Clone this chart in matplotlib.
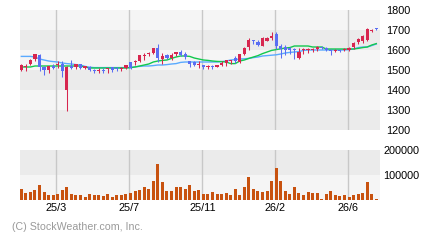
import matplotlib.pyplot as plt
import numpy as np

plt.rcParams['font.family'] = ['Liberation Sans', 'DejaVu Sans']

# weekly candles (price)
opens = [1500, 1517, 1530, 1555, 1575, 1515, 1500, 1520, 1525, 1530,
         1400, 1520, 1515, 1530, 1510, 1515, 1500, 1495, 1500, 1505,
         1515, 1510, 1505, 1510, 1540, 1540, 1545, 1570, 1580, 1585,
         1610, 1555, 1575, 1560, 1580, 1590, 1580, 1545, 1540, 1525,
         1525, 1515, 1520, 1515, 1525, 1535, 1545, 1560, 1540, 1580,
         1615, 1650, 1640, 1620, 1645, 1660, 1682, 1620, 1615, 1610,
         1605, 1560, 1600, 1600, 1602, 1605, 1615, 1610, 1600, 1595,
         1598, 1600, 1600, 1615, 1640, 1645, 1650, 1695, 1710]
highs = [1530, 1530, 1555, 1580, 1580, 1520, 1520, 1530, 1545, 1545,
         1520, 1550, 1530, 1530, 1520, 1520, 1505, 1510, 1510, 1510,
         1515, 1515, 1515, 1525, 1540, 1550, 1575, 1585, 1590, 1610,
         1630, 1585, 1580, 1585, 1590, 1600, 1590, 1545, 1545, 1545,
         1525, 1525, 1525, 1525, 1545, 1550, 1550, 1570, 1580, 1615,
         1660, 1650, 1650, 1665, 1665, 1690, 1690, 1630, 1625, 1615,
         1610, 1610, 1610, 1610, 1610, 1620, 1620, 1615, 1605, 1605,
         1600, 1610, 1615, 1640, 1660, 1675, 1710, 1705, 1710]
lows = [1495, 1495, 1525, 1545, 1495, 1475, 1485, 1505, 1510, 1465,
        1295, 1505, 1505, 1505, 1505, 1495, 1485, 1485, 1485, 1485,
        1490, 1495, 1495, 1505, 1505, 1525, 1540, 1550, 1570, 1580,
        1540, 1530, 1555, 1550, 1570, 1570, 1555, 1515, 1520, 1510,
        1505, 1505, 1505, 1515, 1520, 1520, 1530, 1535, 1535, 1575,
        1600, 1630, 1620, 1620, 1645, 1650, 1605, 1560, 1575, 1580,
        1555, 1555, 1580, 1585, 1590, 1595, 1605, 1595, 1575, 1590,
        1588, 1595, 1595, 1605, 1630, 1635, 1645, 1690, 1700]
closes = [1525, 1522, 1550, 1580, 1515, 1500, 1520, 1510, 1530, 1495,
          1515, 1510, 1530, 1510, 1520, 1500, 1495, 1500, 1495, 1510,
          1500, 1505, 1510, 1525, 1510, 1545, 1575, 1575, 1585, 1610,
          1560, 1570, 1560, 1575, 1590, 1575, 1565, 1530, 1525, 1530,
          1515, 1520, 1515, 1525, 1535, 1550, 1550, 1545, 1580, 1610,
          1650, 1645, 1625, 1660, 1660, 1670, 1618, 1605, 1600, 1600,
          1600, 1590, 1605, 1605, 1605, 1615, 1610, 1600, 1595, 1600,
          1593, 1605, 1610, 1635, 1655, 1670, 1705, 1702, 1705]

# moving averages
ma_short = [1515, 1515, 1515, 1520, 1520, 1520, 1520, 1520, 1520, 1520,
            1520, 1520, 1520, 1520, 1515, 1510, 1510, 1510, 1510, 1510,
            1510, 1510, 1510, 1510, 1512, 1515, 1520, 1525, 1530, 1540,
            1545, 1548, 1550, 1558, 1565, 1570, 1570, 1568, 1560, 1555,
            1550, 1548, 1545, 1543, 1542, 1540, 1532, 1532, 1545, 1550,
            1558, 1565, 1572, 1582, 1590, 1598, 1602, 1606, 1610, 1612,
            1620, 1620, 1620, 1620, 1615, 1615, 1615, 1605, 1605, 1605,
            1605, 1605, 1605, 1605, 1608, 1612, 1615, 1625, 1632]
ma_long = [1568, 1568, 1568, 1565, 1555, 1550, 1545, 1542, 1540, 1535,
           1532, 1530, 1527, 1525, 1518, 1514, 1512, 1512, 1512, 1512,
           1512, 1512, 1512, 1512, 1512, 1516, 1518, 1520, 1520, 1522,
           1525, 1525, 1527, 1530, 1532, 1538, 1540, 1540, 1540, 1540,
           1540, 1540, 1540, 1540, 1542, 1545, 1550, 1552, 1555, 1556,
           1558, 1562, 1565, 1570, 1572, 1574, 1576, 1580, 1585, 1588,
           1590, 1592, 1598, 1600, 1600, 1600, 1600, 1600, 1600, 1600,
           1600, 1600, 1602, 1605, 1612, 1615, 1615, 1622, 1630]

# weekly volume
volume = [44000, 28000, 32000, 40000, 60000, 32000, 20000, 20000, 24000, 40000,
          52000, 24000, 20000, 20000, 12000, 24000, 20000, 20000, 16000, 24000,
          12000, 20000, 20000, 24000, 28000, 36000, 40000, 52000, 44000, 76000,
          144000, 72000, 36000, 36000, 52000, 52000, 44000, 60000, 36000, 40000,
          24000, 24000, 32000, 24000, 24000, 28000, 20000, 44000, 20000, 52000,
          92000, 44000, 36000, 32000, 36000, 76000, 128000, 76000, 36000, 24000,
          52000, 28000, 20000, 32000, 28000, 28000, 4000, 24000, 36000, 20000,
          16000, 20000, 12000, 20000, 24000, 28000, 72000, 24000, 4000]

month_labels = ['25/3', '25/7', '25/11', '26/2', '26/6']
month_pos = [7.7, 23.74, 39.78, 55.82, 71.86]

price_ticks = [1200, 1300, 1400, 1500, 1600, 1700, 1800]
vol_ticks = [100000, 200000]

UP = '#d7264f'
DOWN = '#5a6ef2'
LIGHT = '#f5f5f5'
DARK = '#ebebeb'
GRID = '#c8c8c8'

x = np.arange(len(closes))
o = np.array(opens)
c = np.array(closes)
up = c >= o
colors = np.where(up, UP, DOWN)

fig = plt.figure(figsize=(4.4, 2.4), dpi=100)
ax = fig.add_axes([20 / 440, 110 / 240, 360 / 440, 120 / 240])
axv = fig.add_axes([20 / 440, 40 / 240, 360 / 440, 50 / 240])

# price panel
for k in range(6):
    ax.axhspan(1200 + 100 * k, 1300 + 100 * k, color=DARK if k % 2 == 0 else LIGHT, lw=0, zorder=0)
for p in month_pos:
    ax.axvline(p, color=GRID, lw=1.0, zorder=1)

ax.plot(x, ma_long, color='#5aaaff', lw=1.0, zorder=2)
ax.plot(x, ma_short, color='#12c84e', lw=1.0, zorder=2)

ax.vlines(x, lows, highs, colors=colors, lw=0.75, zorder=3)
body = np.maximum(np.abs(c - o), 4)
ax.bar(x, body, bottom=np.minimum(o, c), width=0.7, color=colors, lw=0, zorder=4)

ax.set_xlim(-0.29, 78.81)
ax.set_ylim(1200, 1800)
ax.set_yticks(price_ticks)
ax.yaxis.tick_right()
ax.tick_params(axis='y', length=0, pad=4.3, labelsize=7.8)
ax.set_xticks([])
for s in ax.spines.values():
    s.set_visible(False)

# volume panel
axv.axhspan(0, 100000, color=LIGHT, lw=0, zorder=0)
axv.axhspan(100000, 200000, color=DARK, lw=0, zorder=0)
for p in month_pos:
    axv.axvline(p, color=GRID, lw=1.0, zorder=1)
axv.bar(x, volume, width=0.66, color='#c8520f', lw=0, zorder=2)

axv.set_xlim(-0.29, 78.81)
axv.set_ylim(0, 200000)
axv.set_yticks(vol_ticks)
axv.set_yticklabels([str(v) for v in vol_ticks])
axv.yaxis.tick_right()
axv.tick_params(axis='y', length=0, pad=2.2, labelsize=7.8)
axv.set_xticks(month_pos)
axv.set_xticklabels(month_labels)
axv.tick_params(axis='x', length=0, pad=2.5, labelsize=7.8)
for s in axv.spines.values():
    s.set_visible(False)

fig.text(12 / 440, 1 - 227 / 240, '(C) StockWeather.com, Inc.', color='#9a9a9a',
         fontsize=7.7, va='center', ha='left')

fig.savefig('out.png', dpi=100)
